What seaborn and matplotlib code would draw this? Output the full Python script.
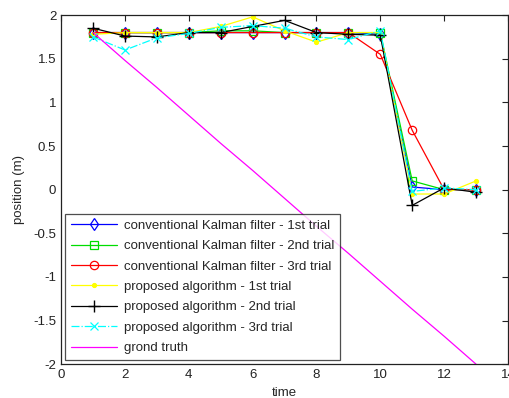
import matplotlib
matplotlib.use('Agg')
import matplotlib.pyplot as plt
import seaborn as sns
import pandas as pd

time = list(range(1, 14))

kf_trial1 = [1.80, 1.80, 1.80, 1.80, 1.80, 1.80, 1.80, 1.80, 1.80, 1.78, 0.03, 0.00, 0.00]
kf_trial2 = [1.80, 1.80, 1.80, 1.80, 1.82, 1.82, 1.80, 1.80, 1.80, 1.80, 0.10, 0.00, 0.00]
kf_trial3 = [1.80, 1.80, 1.80, 1.80, 1.80, 1.80, 1.80, 1.80, 1.80, 1.55, 0.68, 0.00, 0.00]
prop_trial1 = [1.78, 1.80, 1.80, 1.80, 1.87, 1.98, 1.82, 1.69, 1.80, 1.80, -0.05, -0.05, 0.10]
prop_trial2 = [1.85, 1.76, 1.75, 1.80, 1.80, 1.87, 1.94, 1.80, 1.78, 1.77, -0.18, 0.02, -0.03]
prop_trial3 = [1.75, 1.60, 1.74, 1.79, 1.86, 1.88, 1.85, 1.75, 1.72, 1.82, -0.02, 0.02, 0.00]
ground_truth = [1.80, 1.48, 1.17, 0.85, 0.53, 0.22, -0.10, -0.42, -0.73, -1.05, -1.37, -1.68, -2.00]

labels = ['conventional Kalman filter - 1st trial',
          'conventional Kalman filter - 2nd trial',
          'conventional Kalman filter - 3rd trial',
          'proposed algorithm - 1st trial',
          'proposed algorithm - 2nd trial',
          'proposed algorithm - 3rd trial',
          'grond truth']
series = [kf_trial1, kf_trial2, kf_trial3, prop_trial1, prop_trial2, prop_trial3, ground_truth]
colors = ['#0000ff', '#00dd00', '#ff0000', '#ffff00', '#000000', '#00ffff', '#ff00ff']
markers = ['d', 's', 'o', '.', '+', 'x', None]
linestyles = ['-', '-', '-', '-', '-', '-.', '-']

sns.set_style('white')
plt.rcParams['font.family'] = ['Liberation Sans', 'DejaVu Sans']

fig = plt.figure(figsize=(5.1, 3.98), dpi=100)
ax = fig.add_axes([0.12, 0.085, 0.876, 0.877])

for vals, lab, c, m, ls in zip(series, labels, colors, markers, linestyles):
    df = pd.DataFrame({'time': time, 'position': vals})
    kw = dict(color=c, label=lab, linewidth=0.9, linestyle=ls)
    if m is not None:
        if m in ('d', 's', 'o'):
            kw.update(marker=m, markersize=6, markerfacecolor='none',
                      markeredgecolor=c, markeredgewidth=0.9)
        elif m == '.':
            kw.update(marker=m, markersize=6, markeredgecolor=c)
        elif m == 'x':
            kw.update(marker=m, markersize=5.5, markeredgecolor=c, markeredgewidth=0.9)
        else:
            kw.update(marker=m, markersize=8, markeredgecolor=c, markeredgewidth=1.0)
    sns.lineplot(data=df, x='time', y='position', ax=ax, **kw)

ax.set_xlim(0, 14)
ax.set_ylim(-2, 2)
ax.set_xticks(range(0, 15, 2))
ax.set_yticks([-2, -1.5, -1, -0.5, 0, 0.5, 1, 1.5, 2])
ax.set_yticklabels(['-2', '-1.5', '-1', '-0.5', '0', '0.5', '1', '1.5', '2'])
ax.tick_params(direction='in', length=4, width=0.8, labelsize=9.5,
               top=True, right=True, colors='#222222')
for s in ax.spines.values():
    s.set_color('#222222')
    s.set_linewidth(0.9)
ax.set_xlabel('time', fontsize=9.5, labelpad=4)
ax.set_ylabel('position (m)', fontsize=9.5, labelpad=6)

leg = ax.legend(loc='lower left', fontsize=9.5, frameon=True, fancybox=False,
                borderaxespad=0.3, handlelength=3.5, labelspacing=0.62,
                borderpad=0.45, handletextpad=0.5)
leg.get_frame().set_edgecolor('#222222')
leg.get_frame().set_linewidth(0.9)

fig.savefig('out.png', dpi=100)
